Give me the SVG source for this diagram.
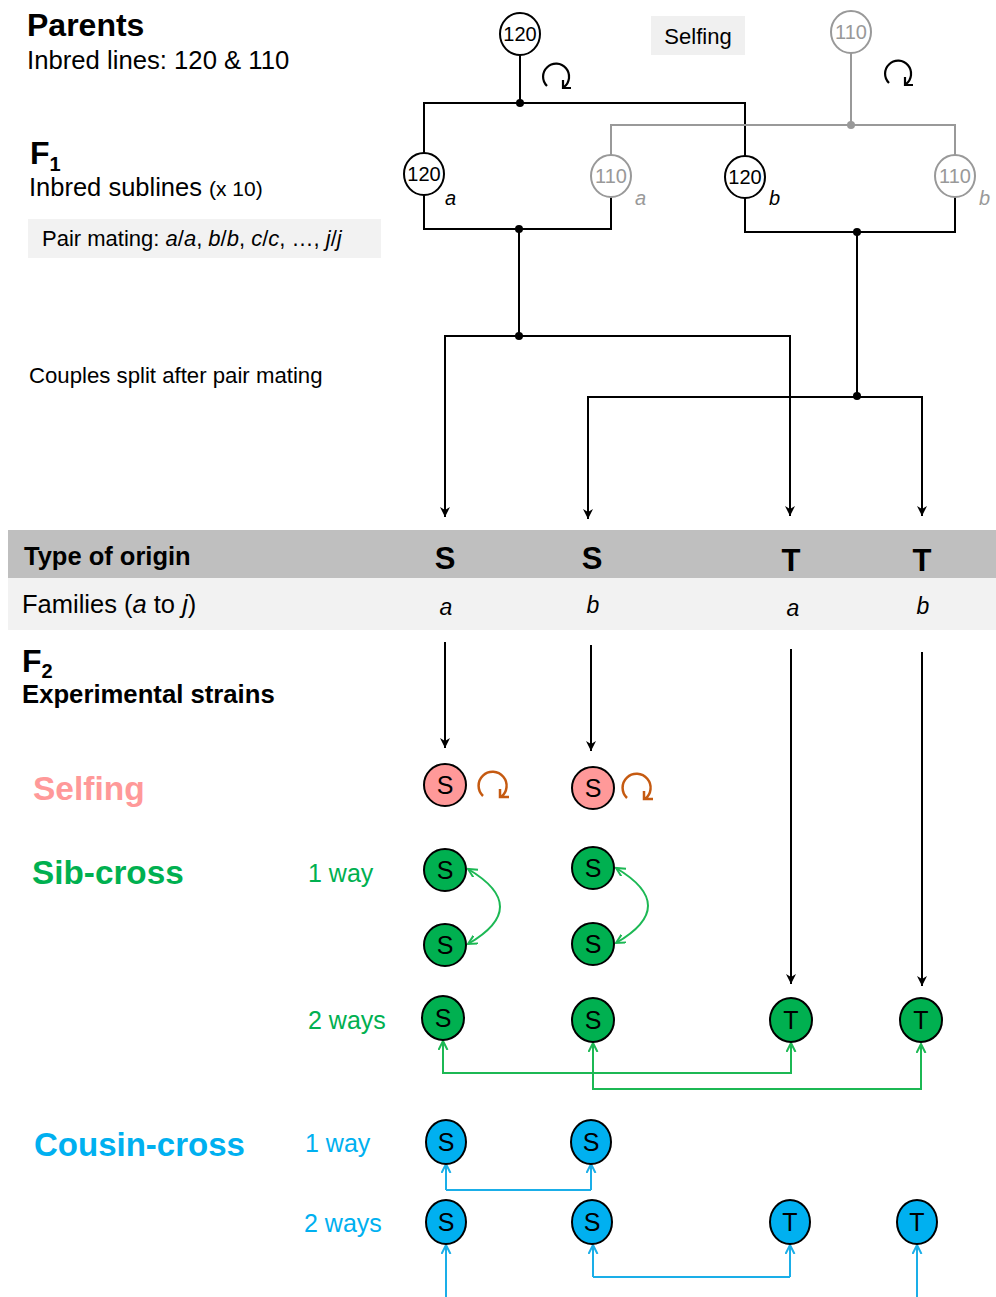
<svg xmlns="http://www.w3.org/2000/svg" width="996" height="1297" viewBox="0 0 996 1297">
<style>
text{font-family:"Liberation Sans",Arial,sans-serif;fill:#000}
.b{font-weight:bold}
.nb{fill:#fff;stroke:#000;stroke-width:2}
.ng{fill:#fff;stroke:#999;stroke-width:2}
.nl{font-size:20px;text-anchor:middle}
.gl{fill:#999}
.pk{fill:#ff9999;stroke:#000;stroke-width:2}
.gr{fill:#00b050;stroke:#000;stroke-width:2}
.bl{fill:#00b0f0;stroke:#000;stroke-width:2}
.sl{font-size:25px;text-anchor:middle}
.k{fill:none;stroke:#000;stroke-width:2}
.kg{fill:none;stroke:#999;stroke-width:2}
.cg{fill:none;stroke:#1cb854;stroke-width:2}
.cb{fill:none;stroke:#1aaee8;stroke-width:2}
.lo{fill:none;stroke:#000;stroke-width:2.2}
.lor{fill:none;stroke:#c55a11;stroke-width:2.5}
</style>
<defs>
<marker id="ak" markerWidth="12" markerHeight="12" refX="10" refY="5" orient="auto" markerUnits="userSpaceOnUse"><path d="M0,0 L10,5 L0,10 L3,5 z" fill="#000"/></marker>
<marker id="ag" markerWidth="12" markerHeight="12" refX="9" refY="5" orient="auto-start-reverse" markerUnits="userSpaceOnUse"><path d="M0,0.5 L9,5 L0,9.5" fill="none" stroke="#1cb854" stroke-width="2"/></marker>
<marker id="ab" markerWidth="12" markerHeight="12" refX="9" refY="5" orient="auto" markerUnits="userSpaceOnUse"><path d="M0,0.5 L9,5 L0,9.5" fill="none" stroke="#1aaee8" stroke-width="2"/></marker>
</defs>

<!-- table bands -->
<rect x="8" y="530" width="988" height="48" fill="#bfbfbf"/>
<rect x="8" y="578" width="988" height="52" fill="#f2f2f2"/>
<rect x="28" y="219" width="353" height="39" fill="#f2f2f2"/>
<rect x="651" y="16" width="94" height="39" fill="#f0f0f0"/>

<!-- left labels -->
<g id="labels">
<text x="27" y="36" class="b" font-size="32">Parents</text>
<text x="27" y="69" font-size="25.7">Inbred lines: 120 &amp; 110</text>
<text x="30" y="164" class="b" font-size="32">F<tspan font-size="20" dy="7">1</tspan></text>
<text x="29" y="196" font-size="25.5">Inbred sublines <tspan font-size="21">(x 10)</tspan></text>
<text x="42" y="246" font-size="22">Pair mating: <tspan font-style="italic">a</tspan>/<tspan font-style="italic">a</tspan>, <tspan font-style="italic">b</tspan>/<tspan font-style="italic">b</tspan>, <tspan font-style="italic">c</tspan>/<tspan font-style="italic">c</tspan>, …, <tspan font-style="italic">j</tspan>/<tspan font-style="italic">j</tspan></text>
<text x="698" y="44" font-size="22" text-anchor="middle">Selfing</text>
<text x="29" y="383" font-size="22.2">Couples split after pair mating</text>
<text x="24" y="565" class="b" font-size="25.5">Type of origin</text>
<text x="22" y="613" font-size="25.5">Families (<tspan font-style="italic">a</tspan> to <tspan font-style="italic">j</tspan>)</text>
<g class="b" font-size="31" text-anchor="middle">
<text x="445" y="569">S</text><text x="592" y="569">S</text><text x="791" y="571">T</text><text x="922" y="571">T</text>
</g>
<g font-size="23" font-style="italic" text-anchor="middle">
<text x="446" y="615">a</text><text x="593" y="613">b</text><text x="793" y="616">a</text><text x="923" y="614">b</text>
</g>
<text x="22" y="672" class="b" font-size="32">F<tspan font-size="20" dy="6">2</tspan></text>
<text x="22" y="703" class="b" font-size="25.7">Experimental strains</text>
<text x="33" y="800" class="b" font-size="33.5" style="fill:#ff9999">Selfing</text>
<text x="32" y="884" class="b" font-size="33.3" style="fill:#00b050">Sib-cross</text>
<text x="308" y="882" font-size="25" style="fill:#00b050">1 way</text>
<text x="308" y="1029" font-size="25" style="fill:#00b050">2 ways</text>
<text x="34" y="1156" class="b" font-size="33" style="fill:#00b0f0">Cousin-cross</text>
<text x="305" y="1152" font-size="25" style="fill:#00b0f0">1 way</text>
<text x="304" y="1232" font-size="25" style="fill:#00b0f0">2 ways</text>
</g>

<!-- connectors -->
<g id="connectors">
<path class="k" d="M520,55 V103 M424,153 V103 H745 V156"/>
<path class="kg" d="M851,53 V125 M611,155 V125 H955 V155"/>
<circle cx="520" cy="103" r="4" fill="#000"/>
<circle cx="851" cy="125" r="4" fill="#999"/>
<path class="k" d="M424,195 V229 H611 V197"/>
<path class="k" d="M745,198 V232 H955 V197"/>
<circle cx="519" cy="229" r="4" fill="#000"/>
<circle cx="857" cy="232" r="4" fill="#000"/>
<path class="k" d="M519,229 V336 M857,232 V396"/>
<circle cx="519" cy="336" r="4" fill="#000"/>
<circle cx="857" cy="396" r="4" fill="#000"/>
<path class="k" d="M519,336 H445 V517" marker-end="url(#ak)"/>
<path class="k" d="M519,336 H790 V516" marker-end="url(#ak)"/>
<path class="k" d="M857,397 H588 V519" marker-end="url(#ak)"/>
<path class="k" d="M857,397 H922 V516" marker-end="url(#ak)"/>
<path class="k" d="M445,642 V748" marker-end="url(#ak)"/>
<path class="k" d="M591,645 V751" marker-end="url(#ak)"/>
<path class="k" d="M791,649 V984" marker-end="url(#ak)"/>
<path class="k" d="M922,652 V986" marker-end="url(#ak)"/>
<!-- self loops -->
<path class="lo" d="M547,86 A13,13 0 1 1 564,87 M563,80 L563,88 L571,88"/>
<path class="lo" d="M889,83 A13,13 0 1 1 906,84 M905,77 L905,85 L913,85"/>
<path class="lor" d="M483,796 A14,14 0 1 1 501,797 M500,789 L500,797 L509,797"/>
<path class="lor" d="M627,798 A14,14 0 1 1 645,799 M644,791 L644,799 L653,799"/>
<!-- sib cross -->
<path class="cg" d="M468,869 Q532,907 468,944" marker-start="url(#ag)" marker-end="url(#ag)"/>
<path class="cg" d="M616,868 Q680,906 616,943" marker-start="url(#ag)" marker-end="url(#ag)"/>
<path class="cg" d="M443,1041 V1073 H791 V1043" marker-start="url(#ag)" marker-end="url(#ag)"/>
<path class="cg" d="M593,1043 V1089 H921 V1044" marker-start="url(#ag)" marker-end="url(#ag)"/>
<!-- cousin cross -->
<path class="cb" d="M446,1190 V1164" marker-end="url(#ab)"/>
<path class="cb" d="M591,1190 V1164" marker-end="url(#ab)"/>
<path class="cb" d="M446,1190 H591"/>
<path class="cb" d="M446,1297 V1245" marker-end="url(#ab)"/>
<path class="cb" d="M593,1277 V1245" marker-end="url(#ab)"/>
<path class="cb" d="M790,1277 V1245" marker-end="url(#ab)"/>
<path class="cb" d="M593,1277 H790"/>
<path class="cb" d="M917,1297 V1245" marker-end="url(#ab)"/>
</g>

<!-- parents -->
<g id="p120"><ellipse class="nb" cx="520" cy="34" rx="20" ry="21"/><text class="nl" x="520" y="41">120</text></g>
<g id="p110"><ellipse class="ng" cx="851" cy="32" rx="20" ry="21"/><text class="nl gl" x="851" y="39">110</text></g>
<!-- F1 -->
<g id="f120a"><ellipse class="nb" cx="424" cy="174" rx="20" ry="21"/><text class="nl" x="424" y="181">120</text><text x="445" y="205" font-size="20" font-style="italic">a</text></g>
<g id="f110a"><ellipse class="ng" cx="611" cy="176" rx="20" ry="21"/><text class="nl gl" x="611" y="183">110</text><text x="635" y="205" font-size="20" font-style="italic" class="gl">a</text></g>
<g id="f120b"><ellipse class="nb" cx="745" cy="177" rx="20" ry="21"/><text class="nl" x="745" y="184">120</text><text x="769" y="205" font-size="20" font-style="italic">b</text></g>
<g id="f110b"><ellipse class="ng" cx="955" cy="176" rx="20" ry="21"/><text class="nl gl" x="955" y="183">110</text><text x="979" y="205" font-size="20" font-style="italic" class="gl">b</text></g>

<!-- F2 selfing -->
<g id="self1"><ellipse class="pk" cx="445" cy="785" rx="21" ry="21"/><text class="sl" x="445" y="794">S</text></g>
<g id="self2"><ellipse class="pk" cx="593" cy="788" rx="21" ry="21"/><text class="sl" x="593" y="797">S</text></g>
<!-- sib cross 1 way -->
<g id="sib1a"><ellipse class="gr" cx="445" cy="870" rx="21" ry="21"/><text class="sl" x="445" y="879">S</text></g>
<g id="sib1b"><ellipse class="gr" cx="445" cy="945" rx="21" ry="21"/><text class="sl" x="445" y="954">S</text></g>
<g id="sib1c"><ellipse class="gr" cx="593" cy="868" rx="21" ry="21"/><text class="sl" x="593" y="877">S</text></g>
<g id="sib1d"><ellipse class="gr" cx="593" cy="944" rx="21" ry="21"/><text class="sl" x="593" y="953">S</text></g>
<!-- sib cross 2 ways -->
<g id="sib2a"><ellipse class="gr" cx="443" cy="1018" rx="21" ry="22"/><text class="sl" x="443" y="1027">S</text></g>
<g id="sib2b"><ellipse class="gr" cx="593" cy="1020" rx="21" ry="22"/><text class="sl" x="593" y="1029">S</text></g>
<g id="sib2c"><ellipse class="gr" cx="791" cy="1020" rx="21" ry="22"/><text class="sl" x="791" y="1029">T</text></g>
<g id="sib2d"><ellipse class="gr" cx="921" cy="1020" rx="21" ry="22"/><text class="sl" x="921" y="1029">T</text></g>
<!-- cousin cross 1 way -->
<g id="cou1a"><ellipse class="bl" cx="446" cy="1142" rx="20" ry="22"/><text class="sl" x="446" y="1151">S</text></g>
<g id="cou1b"><ellipse class="bl" cx="591" cy="1142" rx="20" ry="22"/><text class="sl" x="591" y="1151">S</text></g>
<!-- cousin cross 2 ways -->
<g id="cou2a"><ellipse class="bl" cx="446" cy="1222" rx="20" ry="22"/><text class="sl" x="446" y="1231">S</text></g>
<g id="cou2b"><ellipse class="bl" cx="592" cy="1222" rx="20" ry="22"/><text class="sl" x="592" y="1231">S</text></g>
<g id="cou2c"><ellipse class="bl" cx="790" cy="1222" rx="20" ry="22"/><text class="sl" x="790" y="1231">T</text></g>
<g id="cou2d"><ellipse class="bl" cx="917" cy="1222" rx="20" ry="22"/><text class="sl" x="917" y="1231">T</text></g>
</svg>
